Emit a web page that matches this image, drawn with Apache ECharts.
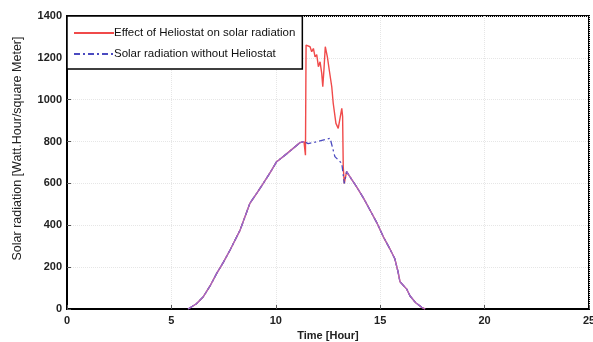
<!DOCTYPE html>
<html>
<head>
<meta charset="utf-8">
<script src="https://cdn.jsdelivr.net/npm/echarts@6/dist/echarts.min.js"></script>
<style>
  html, body { margin: 0; padding: 0; background: #fff; }
  #chart { width: 593px; height: 342px; }
</style>
</head>
<body>
<div id="chart"></div>
<script>
// solar radiation with heliostat (red)
var effectHours = [5.8, 6.2, 6.53, 6.85, 7.17, 7.5, 7.81, 8.29, 8.76, 9.1, 9.4, 9.75, 10.04, 10.15, 10.5, 10.8, 11.16, 11.35,
    11.42, 11.45, 11.64, 11.72, 11.8, 11.88, 11.96, 12.04, 12.12, 12.2, 12.25, 12.31, 12.37, 12.47, 12.56, 12.63, 12.68, 12.75,
    12.88, 12.99, 13.08, 13.16, 13.2, 13.23, 13.28, 13.39, 13.87, 14.2, 14.51, 14.85, 15.15, 15.45, 15.7, 15.85, 15.95, 16.27,
    16.43, 16.7, 16.99, 17.15];
var effectValues = [0, 25, 59, 110, 170, 225, 282, 377, 505, 555, 600, 655, 704, 712, 740, 765, 795, 800,
    735, 1261, 1253, 1229, 1245, 1205, 1215, 1158, 1181, 1126, 1062, 1150, 1253, 1205, 1142, 1134, 1062, 983,
    887, 863, 863, 959, 919, 680, 600, 656, 584, 530, 473, 410, 345, 290, 240, 180, 130, 95,
    62, 30, 8, 0];

// solar radiation without heliostat (blue dash-dot)
var plainHours = [5.8, 6.2, 6.53, 6.85, 7.17, 7.5, 7.81, 8.29, 8.76, 9.1, 9.4, 9.75, 10.04, 10.15, 10.5, 10.8, 11.16, 11.35,
    11.55, 12.0, 12.3, 12.6, 12.83, 13.16, 13.28, 13.39, 13.87, 14.2, 14.51, 14.85, 15.15, 15.45, 15.7, 15.85, 15.95, 16.27,
    16.43, 16.7, 16.99, 17.15];
var plainValues = [0, 25, 59, 110, 170, 225, 282, 377, 505, 555, 600, 655, 704, 712, 740, 765, 795, 800,
    790, 800, 808, 816, 728, 696, 600, 656, 584, 530, 473, 410, 345, 290, 240, 180, 130, 95,
    62, 30, 8, 0];

var xTicks = [0, 5, 10, 15, 20, 25];
var yTicks = [0, 200, 400, 600, 800, 1000, 1200, 1400];

var seriesNames = ['Effect of Heliostat on solar radiation', 'Solar radiation without Heliostat'];

function pairs(xs, ys) {
    var out = [];
    for (var i = 0; i < xs.length; i++) out.push([xs[i], ys[i]]);
    return out;
}

// where both curves coincide they blend to purple in the original
var overlap = [];
plainHours.forEach(function (h, i) {
    if (h > 11.36 && h < 13.39) overlap.push([h, null]);
    else overlap.push([h, plainValues[i]]);
});

var myChart = echarts.init(document.getElementById('chart'));
myChart.setOption({
    animation: false,
    grid: {
        left: 67, right: 4, top: 16, bottom: 33,
        outerBoundsMode: 'none',
        show: true, borderColor: '#000', borderWidth: 2, backgroundColor: '#fff'
    },
    legend: {
        data: seriesNames,
        orient: 'vertical',
        left: 67, top: 16,
        padding: [11, 7, 9, 6],
        itemGap: 9,
        itemWidth: 40,
        itemHeight: 12,
        itemStyle: { opacity: 0 },
        borderColor: '#000',
        borderWidth: 1.5,
        backgroundColor: '#fff',
        textStyle: { fontFamily: 'Liberation Sans', fontSize: 11.5, color: '#111', padding: [0, 0, 0, -5] }
    },
    xAxis: {
        type: 'value',
        min: xTicks[0], max: xTicks[xTicks.length - 1], interval: 5,
        name: 'Time [Hour]',
        nameLocation: 'middle',
        nameGap: 18,
        nameTextStyle: { fontFamily: 'Liberation Sans', fontSize: 11, fontWeight: 'bold', color: '#222' },
        axisLine: { show: true, onZero: false, lineStyle: { color: '#000', width: 2 } },
        axisTick: { show: true, inside: true, length: 4, lineStyle: { color: '#555' } },
        axisLabel: { fontFamily: 'Liberation Sans', fontSize: 11, fontWeight: 'bold', color: '#222', margin: 6 },
        splitLine: { show: true, lineStyle: { color: '#e6e6e6', type: 'dotted' } }
    },
    yAxis: {
        type: 'value',
        min: yTicks[0], max: yTicks[yTicks.length - 1], interval: 200,
        name: 'Solar radiation [Watt.Hour/square Meter]',
        nameLocation: 'middle',
        nameGap: 43,
        nameTextStyle: { fontFamily: 'Liberation Sans', fontSize: 12.5, color: '#222', padding: [0, 0, 0, 28] },
        axisLine: { show: true, lineStyle: { color: '#000', width: 2 } },
        axisTick: { show: true, inside: true, length: 4, lineStyle: { color: '#555' } },
        axisLabel: {
            fontFamily: 'Liberation Sans', fontSize: 11, fontWeight: 'bold', color: '#222', margin: 5,
            formatter: function (v) { return String(v); }
        },
        splitLine: { show: true, lineStyle: { color: '#e6e6e6', type: 'dotted' } }
    },
    series: [
        {
            name: seriesNames[0],
            type: 'line',
            data: pairs(effectHours, effectValues),
            showSymbol: false, symbol: 'none',
            itemStyle: { color: '#f04a4a' },
            lineStyle: { color: '#f04a4a', width: 1.4 },
            z: 2
        },
        {
            name: seriesNames[1],
            type: 'line',
            data: pairs(plainHours, plainValues),
            showSymbol: false, symbol: 'none',
            itemStyle: { color: '#4a4ac0' },
            lineStyle: { color: '#4a4ac0', width: 1.3, type: [6, 3, 2, 3] },
            z: 3
        },
        {
            name: 'overlap',
            type: 'line',
            data: overlap,
            connectNulls: false,
            showSymbol: false, symbol: 'none',
            lineStyle: { color: '#a06ac8', width: 1.3 },
            z: 4
        }
    ]
});
window.addEventListener('resize', function () {
    myChart.resize();
});
</script>
</body>
</html>
